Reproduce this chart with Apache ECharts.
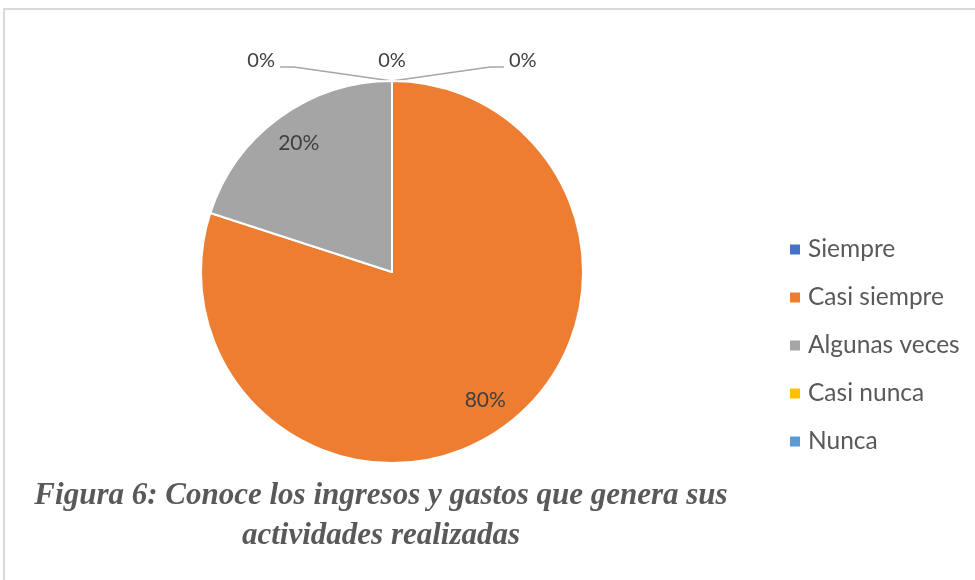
<!DOCTYPE html>
<html>
<head>
<meta charset="utf-8">
<script src="https://cdn.jsdelivr.net/npm/echarts@6/dist/echarts.min.js"></script>
<style>html,body{margin:0;padding:0;background:#fff;}#c{width:975px;height:580px;}</style>
</head>
<body>
<div id="c"></div>
<script>
var categories = ['Siempre', 'Casi siempre', 'Algunas veces', 'Casi nunca', 'Nunca'];
var values = [0, 80, 20, 0, 0];
var colors = ['#4472C4', '#ED7D31', '#A5A5A5', '#FFC000', '#5B9BD5'];
var captionLines = ['Figura 6: Conoce los ingresos y gastos que genera sus', 'actividades realizadas'];

var R = 191;
var CX = 392, CY = 272;
// where each zero-value label goes: 'left', 'mid', 'right'
var zeroSide = {0: 'right', 3: 'left', 4: 'mid'};

var chart = echarts.init(document.getElementById('c'));

var mainData = categories.map(function (n, i) {
  var z = values[i] === 0;
  return {
    name: n, value: values[i],
    itemStyle: {color: colors[i]},
    label: {show: z},
    labelLine: {show: z}
  };
});
var labelData = categories.map(function (n, i) {
  return {
    name: n, value: values[i],
    itemStyle: {color: 'rgba(0,0,0,0)', borderWidth: 0},
    label: {show: values[i] !== 0}
  };
});

function pctFmt(p) { return Math.round(p.percent) + '%'; }

chart.setOption({
  animation: false,
  graphic: [{
    type: 'rect', silent: true, z: -10,
    shape: {x: 4, y: 9, width: 1000, height: 600},
    style: {fill: 'none', stroke: '#d9d9d9', lineWidth: 2}
  }],
  title: {
    text: captionLines.join('\n'),
    left: 376, top: 471, textAlign: 'center',
    textStyle: {
      fontFamily: 'Liberation Serif', fontStyle: 'italic', fontWeight: 'bold',
      fontSize: 31, lineHeight: 40, color: '#595959'
    }
  },
  legend: {
    data: categories,
    orient: 'vertical', left: 785, top: 232,
    icon: 'rect', itemWidth: 10, itemHeight: 10, itemGap: 23,
    itemStyle: {borderWidth: 0},
    textStyle: {fontFamily: 'Lato', fontSize: 24.5, color: '#595959', lineHeight: 24, padding: [0, 0, 0, 3]}
  },
  series: [{
    type: 'pie',
    center: [CX, CY], radius: [0, R],
    startAngle: 90, clockwise: true,
    avoidLabelOverlap: false,
    itemStyle: {borderColor: '#fff', borderWidth: 2},
    label: {
      position: 'outside', formatter: pctFmt,
      fontFamily: 'Lato', fontSize: 20, color: '#404040'
    },
    labelLine: {length: 12, length2: 12, smooth: false, lineStyle: {color: '#a6a6a6', width: 1.5}},
    labelLayout: function (p) {
      var side = zeroSide[p.dataIndex];
      if (!side) return {};
      var ax = CX, ay = CY - R;
      if (side === 'mid') {
        return {x: ax, y: ay - 20, align: 'center', verticalAlign: 'middle', labelLinePoints: [[ax, ay], [ax, ay], [ax, ay]]};
      }
      var s = side === 'left' ? -1 : 1;
      return {
        x: ax + s * 117, y: ay - 20,
        align: side === 'left' ? 'right' : 'left', verticalAlign: 'middle',
        labelLinePoints: [[ax, ay], [ax + s * 98, ay - 14], [ax + s * 112, ay - 14]]
      };
    },
    data: mainData
  }, {
    type: 'pie', silent: true,
    center: [CX, CY], radius: [R * 0.63, R],
    startAngle: 90, clockwise: true,
    label: {
      position: 'inside', formatter: pctFmt,
      fontFamily: 'Lato', fontSize: 21, color: '#404040'
    },
    labelLine: {show: false},
    data: labelData
  }]
});
</script>
</body>
</html>
